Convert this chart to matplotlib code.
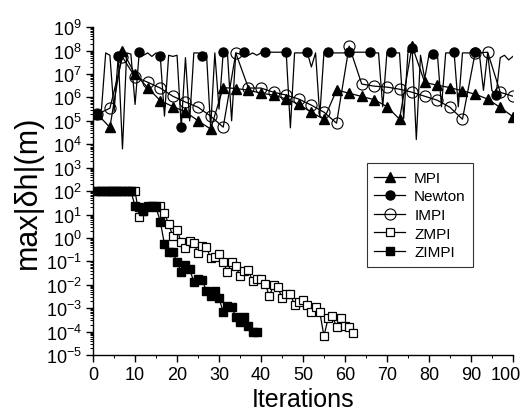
import numpy as np
import matplotlib
matplotlib.use('Agg')
import matplotlib.pyplot as plt
from matplotlib.ticker import LogLocator, MultipleLocator, NullFormatter
from matplotlib.transforms import ScaledTranslation

plt.rcParams['font.family'] = ['Liberation Sans', 'DejaVu Sans']
plt.rcParams['mathtext.fontset'] = 'custom'
plt.rcParams['mathtext.rm'] = 'Liberation Sans'

# 数据：纵坐标以 log10 值读出
mpi_x = list(range(1, 101, 3))
mpi_log = [5.29, 4.72, 7.99, 6.99, 6.42, 5.86, 5.61, 5.39, 5.00, 4.65,
           6.42, 6.38, 6.31, 6.18, 6.10, 5.93, 5.71, 5.36, 5.07,
           6.31, 6.18, 6.04, 5.90, 5.61, 5.07,
           8.20, 6.64, 6.52, 6.42, 6.28, 6.14, 5.93, 5.57, 5.18]

impi_x = list(range(1, 101, 3))
impi_log = [5.28, 5.54, 7.72, 6.87, 6.65, 6.40, 6.05, 5.80, 5.58, 5.20, 4.73,
            7.89, 6.40, 6.40, 6.22, 6.10, 5.93, 5.67, 5.37, 4.90,
            8.19, 6.57, 6.48, 6.44, 6.35, 6.22, 6.05, 5.88, 5.58, 5.07,
            7.89, 7.93, 6.22, 6.05]

newton_x = list(range(1, 101))
newton_log = [5.28, 5.5, 7.9, 7.8, 5.4, 7.76, 3.8, 7.9, 7.85, 5.7,
              7.93, 7.8, 7.9, 7.75, 7.9, 7.76, 5.2, 7.8, 7.75, 7.8,
              4.73, 7.7, 5.0, 7.9, 7.9, 7.76, 7.9, 4.7, 7.9, 5.5,
              7.93, 7.9, 5.0, 7.9, 7.85, 7.93, 7.8, 7.9, 7.8, 7.9,
              7.93, 7.93, 7.93, 7.93, 7.93, 7.93, 4.7, 7.9, 7.9, 7.9,
              7.93, 7.3, 7.9, 5.2, 7.93, 7.93, 7.9, 7.9, 7.9, 7.9,
              7.93, 7.93, 7.93, 7.93, 7.93, 7.93, 7.9, 7.9, 5.6, 7.9,
              7.93, 7.9, 7.9, 5.1, 7.9, 8.1, 4.2, 7.8, 6.8, 7.8,
              7.85, 7.9, 5.6, 7.9, 7.9, 7.93, 5.6, 7.9, 7.9, 7.9,
              7.93, 7.9, 6.3, 7.9, 6.3, 6.1, 7.7, 7.8, 7.6, 7.75]

zmpi_x = list(range(1, 63))
zmpi_log = [2.0, 2.0, 2.0, 2.0, 2.0, 2.0, 2.0, 2.0, 2.0, 2.0,
            0.89, 1.15, 1.36, 1.36, 1.36, 1.36, 1.06, 0.59, 0.08, 0.34,
            -0.18, -0.43, -0.13, -0.22, -0.65, -0.35, -0.39, -0.86, -0.82, -0.69,
            -1.03, -1.46, -1.03, -1.20, -1.63, -1.42, -1.38, -1.84, -1.76, -1.76,
            -1.97, -2.48, -2.01, -2.10, -2.57, -2.40, -2.40, -2.87, -2.74, -2.65,
            -2.87, -3.16, -2.95, -3.16, -4.19, -3.42, -3.34, -3.80, -3.42, -3.76,
            -3.80, -4.06]

zimpi_x = list(range(1, 40))
zimpi_log = [2.0, 2.0, 2.0, 2.0, 2.0, 2.0, 2.0, 2.0, 2.0,
             1.36, 1.30, 1.15, 1.30, 1.36, 1.30, 0.70, -0.26, -0.60, -0.60,
             -1.03, -1.46, -1.16, -1.33, -1.88, -1.76, -1.80, -2.27, -2.48, -2.27,
             -2.57, -3.17, -2.90, -2.95, -3.38, -3.60, -3.38, -3.76, -4.02, -4.02]

fig = plt.figure(figsize=(5.26, 4.14), dpi=100)
ax = fig.add_axes([0.177, 0.140, 0.798, 0.792])

lw = 0.9
ax.plot(mpi_x, 10 ** np.array(mpi_log), color='black', lw=lw, marker='^',
        ms=7, mfc='black', mec='black', label='MPI')
ax.plot(newton_x, 10 ** np.array(newton_log), color='black', lw=lw, marker='o',
        ms=6.5, mfc='black', mec='black', markevery=5, label='Newton')
ax.plot(impi_x, 10 ** np.array(impi_log), color='black', lw=lw, marker='o',
        ms=8, mfc='none', mec='black', mew=0.8, label='IMPI')
ax.plot(zmpi_x, 10 ** np.array(zmpi_log), color='black', lw=lw, marker='s',
        ms=6, mfc='white', mec='black', mew=0.9, label='ZMPI')
ax.plot(zimpi_x, 10 ** np.array(zimpi_log), color='black', lw=lw, marker='s',
        ms=6, mfc='black', mec='black', label='ZIMPI')

ax.set_yscale('log')
ax.set_xlim(0, 100)
ax.set_ylim(1e-5, 1e9)
ax.xaxis.set_major_locator(MultipleLocator(10))
ax.xaxis.set_minor_locator(MultipleLocator(5))
ax.yaxis.set_major_locator(LogLocator(base=10, numticks=20))
ax.yaxis.set_minor_locator(LogLocator(base=10, subs=np.arange(2, 10), numticks=20))
ax.yaxis.set_minor_formatter(NullFormatter())

for s in ['top', 'right']:
    ax.spines[s].set_visible(False)
for s in ['left', 'bottom']:
    ax.spines[s].set_linewidth(1.0)

ax.tick_params(which='major', direction='out', length=5, width=1, labelsize=13, pad=3)
ax.tick_params(which='minor', direction='out', length=2.5, width=0.7)

ax.set_xlabel('Iterations', fontsize=18, labelpad=3)
ax.set_ylabel('max|δh|(m)', fontsize=22, labelpad=2)

leg = ax.legend(loc='upper left', bbox_to_anchor=(0.652, 0.585), fontsize=11,
                frameon=True, fancybox=False, edgecolor='black',
                handlelength=2.0, handletextpad=0.6, labelspacing=0.3,
                borderpad=0.5, borderaxespad=0)
leg.get_frame().set_linewidth(0.8)

# 最右边的 "100" 稍微左移，避免被图边裁掉
fig.canvas.draw()
last = ax.xaxis.get_major_ticks()[-1]
for t in ax.xaxis.get_major_ticks():
    if abs(t.get_loc() - 100) < 1e-6:
        last = t
last.label1.set_transform(last.label1.get_transform()
                          + ScaledTranslation(-5 / 72, 0, fig.dpi_scale_trans))

fig.savefig('out.png', dpi=100)
